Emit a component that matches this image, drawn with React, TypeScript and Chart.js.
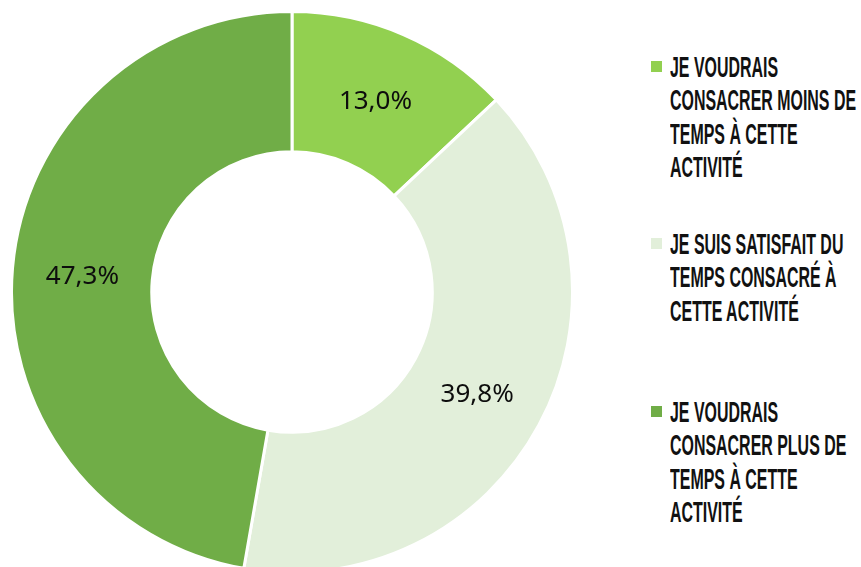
import React, { useEffect, useRef } from 'react';
import { Chart, registerables } from 'chart.js';

Chart.register(...registerables);

// ---- data ----
const categories: string[][] = [
  ['JE VOUDRAIS', 'CONSACRER MOINS DE', 'TEMPS À CETTE', 'ACTIVITÉ'],
  ['JE SUIS SATISFAIT DU', 'TEMPS CONSACRÉ À', 'CETTE ACTIVITÉ'],
  ['JE VOUDRAIS', 'CONSACRER PLUS DE', 'TEMPS À CETTE', 'ACTIVITÉ'],
];
const values: number[] = [13.0, 39.8, 47.3];
const colors: string[] = ['#92D050', '#E2EFDA', '#70AD47'];

// ---- layout (styles only) ----
const legendTops = [50.5, 227.5, 395.5];
const LINE_H = 33.5;

const fmt = (v: number) => v.toFixed(1).replace('.', ',') + '%';

const sliceLabels = {
  id: 'sliceLabels',
  afterDatasetsDraw(chart: any) {
    const ctx = chart.ctx;
    const meta = chart.getDatasetMeta(0);
    ctx.save();
    ctx.font = '26px "Noto Sans"';
    ctx.fillStyle = '#0d0d0d';
    ctx.textAlign = 'center';
    ctx.textBaseline = 'middle';
    meta.data.forEach((arc: any, i: number) => {
      const p = arc.tooltipPosition(false);
      ctx.fillText(fmt(values[i]), p.x, p.y + 3);
    });
    ctx.restore();
  },
};

export default function App() {
  const ref = useRef<HTMLCanvasElement>(null);

  useEffect(() => {
    if (!ref.current) return;
    const chart = new Chart(ref.current, {
      type: 'doughnut',
      data: {
        labels: categories,
        datasets: [
          {
            data: values,
            backgroundColor: colors,
            borderColor: '#ffffff',
            borderWidth: 3,
          },
        ],
      },
      options: {
        animation: false,
        responsive: true,
        maintainAspectRatio: false,
        cutout: '50%',
        events: [],
        layout: { padding: 0 },
        plugins: {
          legend: { display: false },
          tooltip: { enabled: false },
          title: { display: false },
        },
      },
      plugins: [sliceLabels],
    });
    return () => chart.destroy();
  }, []);

  return (
    <div
      style={{
        position: 'absolute',
        left: 0,
        top: 0,
        width: 861,
        height: 567,
        overflow: 'hidden',
        background: '#ffffff',
      }}
    >
      <div style={{ position: 'absolute', left: 10, top: 10, width: 564, height: 564 }}>
        <canvas ref={ref} />
      </div>
      {categories.map((lines, i) => (
        <div key={i} style={{ position: 'absolute', left: 651, top: legendTops[i] }}>
          <div
            style={{
              position: 'absolute',
              left: 0,
              top: LINE_H / 2 - 5.5 - 0.5,
              width: 11,
              height: 11,
              background: colors[i],
            }}
          />
          <div
            style={{
              position: 'absolute',
              left: 19,
              top: 0,
              transform: 'scaleX(0.55)',
              transformOrigin: 'left top',
              whiteSpace: 'nowrap',
              fontFamily: '"Liberation Sans", Arial, sans-serif',
              fontWeight: 'bold',
              fontSize: 29,
              lineHeight: LINE_H + 'px',
              color: '#111111',
            }}
          >
            {lines.map((l, j) => (
              <div key={j}>{l}</div>
            ))}
          </div>
        </div>
      ))}
    </div>
  );
}
